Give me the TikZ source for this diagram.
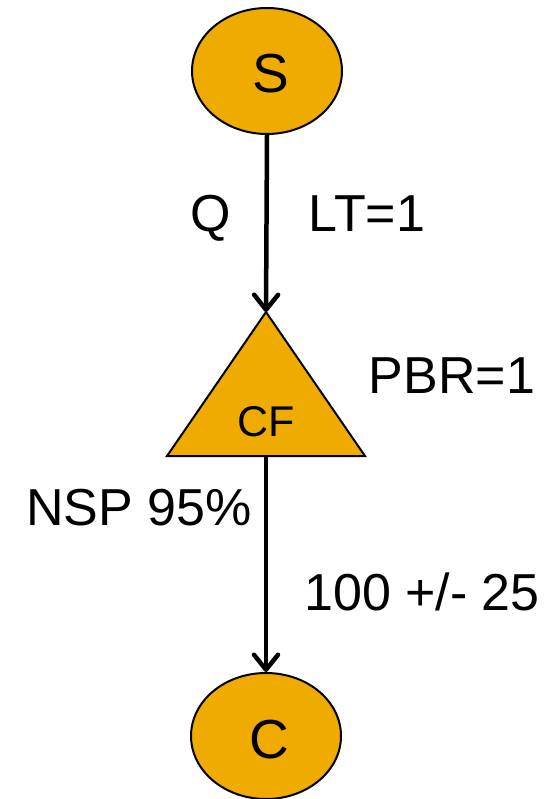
\documentclass[tikz,border=0pt]{standalone}
\usepackage{fontspec}
\setmainfont{Liberation Sans}
\usetikzlibrary{shapes.geometric,arrows.meta}
\definecolor{nodeorange}{RGB}{240,171,0}
\tikzset{
  bubble/.style={ellipse,draw=black,line width=2pt,fill=nodeorange,minimum width=150pt,minimum height=126pt,inner sep=0pt},
  tri/.style={draw=black,line width=2pt,fill=nodeorange,line join=miter},
  conn/.style={line width=4.5pt,-{Straight Barb[length=15pt,width=24pt,round]}},
  big/.style={font=\fontsize{52}{62}\selectfont,anchor=base,inner sep=0pt},
  huge/.style={font=\fontsize{55}{66}\selectfont,anchor=base,inner sep=0pt},
  mid/.style={font=\fontsize{43}{52}\selectfont,anchor=base,inner sep=0pt}
}
\begin{document}
\begin{tikzpicture}[x=1pt,y=-1pt]
\useasboundingbox (0,0) rectangle (556,799);
% S
\node[bubble] (S) at (267,71) {};
\node[huge] (Slab) at (271,93) {S};
% C
\node[bubble] (C) at (266,736) {};
\node[huge] (Clab) at (269,758) {C};
% triangle CF
\coordinate (cfA) at (266,312);
\coordinate (cfL) at (167,456);
\coordinate (cfR) at (365,456);
\coordinate (cfB) at (266,456);
\draw[tri] (cfA) -- (cfL) -- (cfR) -- cycle;
\node[mid] (CF) at (266,436) {CF};
% connectors
\draw[conn] (S.south) -- (cfA);
\draw[conn] (cfB) -- (C.north);
% labels
\node[big] (Q) at (211,232) {Q};
\node[big] (LT) at (367,232) {LT=1};
\node[big] (PBR) at (452,393) {PBR=1};
\node[big] (NSP) at (139,525) {NSP 95\%};
\node[big] (range) at (422,610) {100 +/- 25};
\end{tikzpicture}
\end{document}
